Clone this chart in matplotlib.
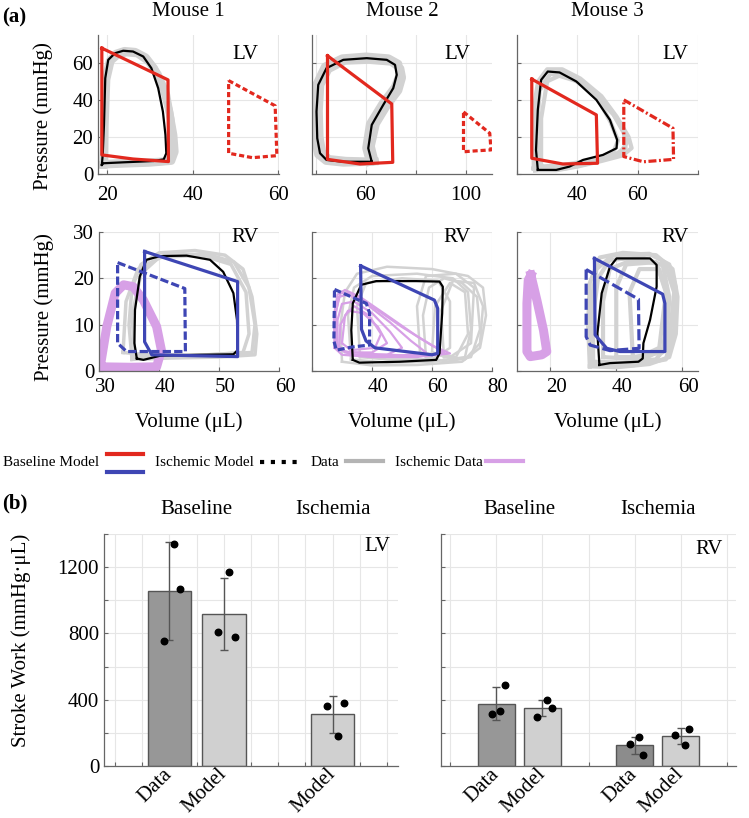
import numpy as np
import matplotlib.pyplot as plt
import matplotlib.transforms as mtransforms
from matplotlib.lines import Line2D

plt.rcParams['font.family'] = ['Liberation Serif', 'DejaVu Serif']

W, H = 749, 818

# ---------------- PV loops (volume uL, pressure mmHg) ----------------
# mouse 1 LV
m1_lv_model = [(18.7, 67.9), (34.2, 50.8), (34.3, 6.7), (26.0, 8.1), (18.7, 10.3)]
m1_lv_isch = [(48.4, 50.4), (59.3, 36.8), (59.7, 9.9), (54.0, 8.8), (48.4, 11.2)]
m1_lv_data = [(18.7, 4.9), (18.9, 10.3), (19.2, 26.5), (19.5, 51.7), (20.2, 61.6), (21.8, 65.2),
              (23.7, 66.5), (26.0, 66.1), (28.4, 63.4), (30.3, 57.1), (31.9, 46.3), (33.0, 33.7),
              (33.6, 21.1), (33.8, 11.2), (33.2, 7.9), (30.8, 7.0), (23.7, 6.3), (19.1, 5.8)]
m1_lv_gray = [
    [(19.0, 5.0), (19.2, 25), (19.6, 52), (20.5, 61), (22.0, 65), (24.0, 66.5), (26.5, 66),
     (29.0, 63), (31.0, 57), (33.0, 47), (34.5, 34), (35.5, 21), (35.8, 12), (35.0, 7),
     (30.0, 6.0), (24.0, 5.5)],
    [(19.3, 5.5), (19.4, 26), (19.8, 51), (20.8, 61), (22.5, 64.5), (24.5, 65.5), (27.0, 65),
     (29.5, 61), (31.8, 54), (33.8, 43), (34.8, 30), (35.3, 18), (35.2, 10), (34.0, 7),
     (29.0, 6.3), (23.0, 6.0)]]

# mouse 2 LV
m2_lv_model = [(44.6, 63.8), (70.3, 37.8), (70.7, 6.3), (57.6, 5.4), (44.6, 7.9)]
m2_lv_isch = [(99.0, 33.5), (109.5, 22.0), (110.0, 13.0), (104.0, 12.5), (99.0, 12.0)]
m2_lv_data = [(62.3, 6.6), (60.9, 13.9), (62.3, 26.5), (66.9, 37.3), (70.9, 46.3), (72.3, 53.5),
              (71.6, 58.9), (68.3, 61.6), (60.3, 62.5), (50.9, 61.6), (44.2, 57.1), (40.9, 48.1),
              (40.2, 33.7), (40.5, 19.3), (41.6, 11.2), (44.2, 7.6), (50.9, 6.6)]
m2_lv_gray = [
    [(61.5, 6.5), (60.0, 14), (61.5, 27), (66.5, 38), (71.5, 47), (73.5, 54), (73.0, 59.5),
     (69.0, 62.5), (60.0, 63.5), (50.5, 62.5), (43.5, 58), (40.0, 48), (39.3, 33), (39.6, 19),
     (40.8, 10.5), (44.0, 7.0), (51.0, 6.0)],
    [(63.5, 6.8), (62.0, 15), (64.0, 27), (68.5, 37), (73.0, 45), (74.5, 52), (73.8, 57),
     (70.0, 60.5), (61.0, 61.5), (51.5, 61), (45.0, 56.5), (41.8, 48), (41.2, 34), (41.5, 20),
     (42.5, 12), (45.0, 8.2), (52.0, 7.2)]]

# mouse 3 LV
m3_lv_model = [(24.9, 51.2), (46.3, 31.9), (46.7, 5.8), (35.2, 5.4), (24.9, 8.5)]
m3_lv_isch = [(55.4, 40.0), (71.7, 24.7), (71.9, 7.9), (61.9, 6.6), (55.4, 9.4)]
m3_lv_data = [(26.9, 2.2), (26.3, 13.0), (26.9, 34.6), (28.0, 50.8), (30.2, 55.3), (34.1, 54.8),
              (39.7, 49.9), (46.3, 40.0), (50.8, 29.2), (53.2, 18.4), (53.0, 13.9), (48.5, 10.3),
              (41.9, 7.6), (37.4, 4.0), (33.0, 2.2)]
m3_lv_gray = [
    [(26.0, 2.0), (25.0, 15), (25.5, 35), (27.0, 50), (30.0, 56.5), (35.0, 56.5), (41.0, 51.5),
     (48.0, 42), (53.0, 31), (57.0, 20), (58.0, 14), (55.0, 10), (48.0, 7), (40.0, 4), (33.0, 2)],
    [(27.0, 3.0), (26.5, 20), (27.5, 45), (31.0, 54), (37.0, 53), (45.0, 44), (52.0, 32),
     (55.5, 22), (56.0, 14), (51.0, 9), (42.0, 5), (33.0, 3)],
    [(28.0, 4.0), (28.0, 30), (30.0, 50), (34.0, 53), (40.0, 50), (47.0, 40), (51.0, 28),
     (53.5, 18), (52.0, 12), (46.0, 8), (36.0, 5)],
    [(25.5, 3.0), (25.8, 25), (27.0, 47), (29.5, 55), (33.5, 55.5), (39.0, 52), (45.5, 44.5),
     (50.5, 36), (54.5, 26), (56.5, 17), (54.0, 11), (46.0, 6.5), (36.0, 3)]]

# mouse 1 RV
m1_rv_model = [(37.6, 25.8), (53.1, 19.3), (53.1, 3.1), (38.8, 3.5), (37.6, 6.3)]
m1_rv_isch = [(33.1, 23.4), (44.3, 17.8), (44.4, 4.2), (34.6, 4.2), (33.1, 6.0)]
m1_rv_data = [(36.3, 2.7), (35.9, 6.0), (36.0, 13.2), (36.8, 20.4), (37.9, 24.0), (40.2, 24.8),
              (44.6, 24.9), (48.5, 24.0), (50.7, 21.4), (52.4, 16.8), (53.0, 11.0), (53.1, 4.5),
              (52.4, 3.6), (46.8, 3.5), (40.2, 3.3), (37.4, 2.4)]
m1_rv_isch_data = [[(30.2, 0.9), (31.3, 9.6), (32.7, 16.8), (34.1, 18.6), (35.7, 18.2),
                    (37.4, 15.3), (39.6, 9.6), (40.4, 4.5), (39.6, 0.9), (35.3, 0.8)]]
m1_rv_gray = [
    [(35.5, 2.5), (35.0, 10), (35.5, 18), (37.0, 23), (40.0, 25.5), (46.0, 26), (51.0, 25),
     (54.0, 22), (55.5, 16), (56.3, 8), (56.0, 3.5), (50.0, 3), (42.0, 2.8)],
    [(36.0, 3.0), (35.5, 12), (37.0, 21), (40.0, 24.5), (47.0, 25), (52.0, 23), (54.5, 17),
     (55.0, 8), (54.0, 4), (45.0, 3.2)],
    [(34.0, 4.0), (34.5, 15), (36.5, 22), (41.0, 25), (48.0, 25.2), (52.5, 23.5), (55.0, 18),
     (56.0, 10), (55.5, 4), (48.0, 3.5), (38.0, 3.5)]]

# mouse 2 RV
m2_rv_model = [(36.2, 22.7), (60.8, 15.3), (61.9, 13.5), (61.9, 3.8), (60.0, 3.5), (41.0, 5.0),
               (38.0, 6.5), (36.5, 9.0)]
m2_rv_isch = [(27.5, 17.6), (38.1, 14.6), (39.2, 12.5), (39.2, 5.6), (33.6, 5.2), (28.1, 4.5),
              (27.3, 6.5)]
m2_rv_data = [(33.6, 2.4), (33.1, 8.8), (33.6, 14.6), (36.4, 18.6), (41.4, 19.4), (54.7, 19.4),
              (62.5, 19.3), (63.6, 18.2), (63.4, 12.5), (62.5, 3.8), (61.4, 2.4), (49.2, 2.0),
              (35.8, 1.8)]
m2_rv_isch_data = [
    [(27.5, 5.0), (27.3, 12), (28.5, 16.5), (31.0, 17.5), (36.0, 16), (45.0, 12), (55.0, 7.5),
     (64.0, 4.0), (55.0, 3.0), (40.0, 3.0), (30.0, 3.5)],
    [(28.0, 5.0), (27.8, 12), (29.0, 16), (32.0, 16.5), (38.0, 14.5), (46.0, 10.5), (53.0, 6.5),
     (58.0, 4.0), (48.0, 3.2), (35.0, 3.3)],
    [(28.5, 5.0), (28.5, 11), (30.0, 14.5), (34.0, 15), (40.0, 12.5), (46.0, 8.5), (50.0, 5),
     (45.0, 3.5), (33.0, 3.5)],
    [(29.0, 5.0), (29.5, 10), (32.0, 13), (37.0, 12.5), (42.0, 9.5), (45.0, 6), (40.0, 4),
     (31.0, 4.0)],
    [(30.0, 6.0), (31.0, 12), (34.0, 14), (39.0, 12), (43.0, 8), (41.0, 5), (33.0, 4.5)],
    [(27.8, 6.0), (28.0, 13), (29.5, 16.8), (33.0, 16.8), (41.0, 13.5), (50.0, 9.5), (60.0, 5.5),
     (66.0, 3.8), (58.0, 3.2), (42.0, 3.6), (31.0, 4.2)]]
m2_rv_gray = [
    [(30.0, 2.0), (29.5, 10), (31.0, 17), (35.0, 21), (45.0, 22.5), (60.0, 22), (72.0, 20.5),
     (77.0, 18), (78.0, 12), (76.0, 5), (70.0, 2), (55.0, 1.3), (40.0, 1.2)],
    [(33.0, 2.5), (32.0, 12), (34.0, 18), (40.0, 20.5), (55.0, 21), (67.0, 20), (72.0, 17),
     (73.0, 9), (71.0, 3), (60.0, 2), (45.0, 1.8)],
    [(58.0, 3.0), (57.0, 12), (59.0, 18), (64.0, 20), (70.0, 19), (75.0, 16), (76.0, 9),
     (73.0, 3), (65.0, 2)],
    [(60.0, 4.0), (61.0, 14), (66.0, 19), (71.0, 17), (72.0, 8), (68.0, 3)],
    [(36.0, 3.0), (35.0, 14), (38.0, 19), (50.0, 20), (62.0, 19.5), (66.0, 15), (66.0, 5),
     (60.0, 2.5), (45.0, 2.5)],
    [(64.0, 3.0), (63.0, 13), (67.0, 19.5), (74.0, 19), (77.0, 14), (76.0, 6), (71.0, 2.5)],
    [(56.0, 4.0), (55.0, 14), (58.0, 20.5), (68.0, 21), (74.0, 18), (73.0, 6), (66.0, 3)]]

# mouse 3 RV
m3_rv_model = [(33.4, 24.3), (54.0, 16.6), (54.7, 14.6), (54.7, 4.2), (41.1, 4.2), (37.1, 4.9),
               (33.6, 7.8)]
m3_rv_isch = [(30.9, 21.9), (46.7, 15.5), (46.9, 4.9), (38.1, 4.4), (32.1, 5.6), (30.9, 7.4)]
m3_rv_data = [(34.9, 1.3), (34.3, 8.1), (35.6, 16.8), (38.1, 22.5), (40.1, 24.3), (50.2, 24.3),
              (52.2, 22.9), (52.2, 18.2), (50.2, 11.0), (48.2, 6.0), (48.0, 2.7), (46.7, 2.0),
              (38.1, 1.7)]
m3_rv_isch_data = [[(14.2, 20.7), (16.0, 15.3), (18.0, 8.8), (19.0, 4.2), (17.5, 3.5), (14.0, 3.1),
                    (13.0, 4.2), (13.0, 14.6), (13.4, 19.6)]]
m3_rv_gray = [
    [(32.0, 1.0), (31.5, 10), (32.0, 19), (35.0, 24.5), (42.0, 25.5), (52.0, 25), (57.0, 22),
     (58.5, 16), (58.0, 8), (56.0, 3), (50.0, 1.5), (40.0, 0.8)],
    [(33.0, 2.0), (33.0, 12), (34.5, 20), (38.0, 24), (48.0, 24.5), (55.0, 22.5), (57.5, 17),
     (56.0, 6), (52.0, 2.5), (42.0, 1.8)],
    [(36.0, 3.0), (36.0, 15), (38.0, 22), (45.0, 24), (54.0, 23), (56.0, 16), (55.0, 5),
     (48.0, 2.5)],
    [(40.0, 3.0), (40.0, 18), (43.0, 23), (52.0, 23.5), (55.0, 17), (53.0, 5), (47.0, 3)],
    [(45.0, 3.0), (44.0, 17), (47.0, 22), (53.0, 22), (56.0, 15), (54.0, 4)],
    [(32.5, 1.5), (32.3, 14), (34.0, 22), (39.0, 25), (50.0, 25.3), (56.0, 23), (58.0, 18),
     (57.5, 9), (55.0, 2.5), (45.0, 1.2)]]

# ---------------- stroke work bars ----------------
lv_pos = [1, 2, 4]
lv_labels = ['Data', 'Model', 'Model']
lv_mean = [1054, 918, 311]
lv_sd = [296, 218, 109]
lv_points = [[1339, 1069, 752], [1173, 808, 778], [363, 383, 184]]

rv_pos = [1, 2, 4, 5]
rv_labels = ['Data', 'Model', 'Data', 'Model']
rv_mean = [377, 349, 124, 180]
rv_sd = [98, 50, 51, 48]
rv_points = [[491, 313, 333], [401, 349, 297], [172, 130, 68], [225, 188, 126]]

# horizontal jitter of the dots (layout only)
lv_jit = [[0.08, 0.19, -0.10], [0.09, -0.11, 0.20], [-0.10, 0.20, 0.09]]
rv_jit = [[0.19, -0.10, 0.09], [0.09, 0.20, -0.11], [0.09, -0.11, 0.19], [0.19, -0.12, 0.09]]

RED = '#e2281e'
BLUE = '#3e46b4'
GRAY = '#d2d2d2'
PURPLE = '#d7a0e6'

fig = plt.figure(figsize=(W / 100, H / 100), dpi=100)


def px_axes(x0, y0, x1, y1):
    return fig.add_axes([x0 / W, 1 - y1 / H, (x1 - x0) / W, (y1 - y0) / H])


def style(ax, fs=15):
    for s in ['top', 'right']:
        ax.spines[s].set_visible(False)
    for s in ['left', 'bottom']:
        ax.spines[s].set_color('#666666')
        ax.spines[s].set_linewidth(0.9)
    ax.tick_params(which='both', direction='in', length=3, width=0.8, color='#666666',
                   labelsize=fs)
    ax.grid(True, which='both', color='#e6e6e6', lw=0.8)
    ax.set_axisbelow(True)


def loop(ax, pts, **kw):
    a = np.array(list(pts) + [pts[0]])
    ax.plot(a[:, 0], a[:, 1], solid_joinstyle='round', dash_joinstyle='round', **kw)


# gray line width per panel (band look of the recorded loops)
gray_lw = [5.5, 5.5, 3.0, 2.5, 1.8, 3.0]

panels = [
    (98, 279, 35, 174, (17.8, 60.2), [20, 40, 60], ['20', '40', '60'], m1_lv_gray, None,
     m1_lv_data, m1_lv_model, m1_lv_isch, RED, (0, (1.6, 0.9)), 'LV', (0.885, 0.93), 'Mouse 1'),
    (312, 492, 35, 174, (38.4, 110.4), [40, 60, 80, 100], ['', '60', '', '100'], m2_lv_gray, None,
     m2_lv_data, m2_lv_model, m2_lv_isch, RED, (0, (1.6, 0.9)), 'LV', (0.88, 0.93), 'Mouse 2'),
    (517, 698, 35, 174, (20, 80), [20, 40, 60, 80], ['', '40', '60', ''], m3_lv_gray, None,
     m3_lv_data, m3_lv_model, m3_lv_isch, RED, (0, (2.5, 0.8, 0.6, 0.8)), 'LV', (0.945, 0.93), 'Mouse 3'),
    (99, 279, 232, 371, (30, 60), [30, 40, 50, 60], ['30', '40', '50', '60'], m1_rv_gray,
     m1_rv_isch_data, m1_rv_data, m1_rv_model, m1_rv_isch, BLUE, (0, (2.6, 1.0)), 'RV', (0.885, 1.03), None),
    (312, 492, 232, 371, (20, 80), [20, 40, 60, 80], ['', '40', '60', '80'], m2_rv_gray,
     m2_rv_isch_data, m2_rv_data, m2_rv_model, m2_rv_isch, BLUE, (0, (2.2, 1.0)), 'RV', (0.88, 1.03), None),
    (517, 698, 232, 371, (10, 64.7), [20, 40, 60], ['20', '40', '60'], m3_rv_gray,
     m3_rv_isch_data, m3_rv_data, m3_rv_model, m3_rv_isch, BLUE, (0, (3.5, 1.2)), 'RV', (0.95, 1.03), None),
]

shift_right = mtransforms.ScaledTranslation(6 / 100, 0, fig.dpi_scale_trans)

for i, (x0, x1, y0, y1, xlim, xt, xtl, gray, isch_data, data, model, isch, col, ls, lab, lpos,
        title) in enumerate(panels):
    ax = px_axes(x0, y0, x1, y1)
    style(ax)
    top = i < 3
    for g in gray:
        loop(ax, g, color=GRAY, lw=gray_lw[i])
    if isch_data is not None:
        for k, p in enumerate(isch_data):
            thick = i != 4
            loop(ax, p, color=PURPLE, lw=6.5 if thick else 1.6)
    loop(ax, data, color='black', lw=1.6)
    loop(ax, model, color=col, lw=2.3)
    loop(ax, isch, color=col, lw=2.3, ls=ls)
    ax.set_xlim(*xlim)
    ax.set_xticks(xt)
    ax.set_xticklabels(xtl)
    if top:
        ax.set_ylim(0, 75)
        ax.set_yticks([0, 20, 40, 60])
        ax.tick_params(axis='x', pad=9)
        ax.set_title(title, fontsize=15, pad=14)
    else:
        ax.set_ylim(0, 30)
        ax.set_yticks([0, 10, 20, 30])
        ax.tick_params(axis='x', pad=5)
        ax.set_xlabel('Volume (\u03bcL)', fontsize=15, labelpad=11)
        for t in ax.get_xticklabels():
            t.set_transform(t.get_transform() + shift_right)
    if i % 3 == 0:
        ax.set_ylabel('Pressure (mmHg)', fontsize=15)
        ax.yaxis.set_label_coords(-0.25, 0.42 if top else 0.46)
    else:
        ax.set_yticklabels([])
    ax.text(lpos[0], lpos[1], lab, transform=ax.transAxes, ha='right', va='top', fontsize=15)

fig.text(2 / W, 1 - 17 / H, '(a)', fontsize=15, weight='bold', va='center')
fig.text(2 / W, 1 - 503 / H, '(b)', fontsize=15, weight='bold', va='center')

# ---------------- legend row ----------------
leg_y = 462
leg_fs = 11
fig.text(3 / W, 1 - leg_y / H, 'Baseline Model', fontsize=leg_fs, va='center')
fig.add_artist(Line2D([107 / W, 143 / W], [1 - 454 / H] * 2, color=RED, lw=3))
fig.add_artist(Line2D([107 / W, 143 / W], [1 - 472 / H] * 2, color=BLUE, lw=3))
fig.text(155 / W, 1 - leg_y / H, 'Ischemic Model', fontsize=leg_fs, va='center')
fig.add_artist(Line2D([260 / W, 298 / W], [1 - 462 / H] * 2, color='black', lw=3,
                      ls=(0, (1.0, 1.6))))
fig.text(311 / W, 1 - leg_y / H, 'Data', fontsize=leg_fs, va='center')
fig.add_artist(Line2D([346 / W, 383 / W], [1 - 461 / H] * 2, color='#b4b4b4', lw=3))
fig.text(395 / W, 1 - leg_y / H, 'Ischemic Data', fontsize=leg_fs, va='center')
fig.add_artist(Line2D([486 / W, 523 / W], [1 - 461 / H] * 2, color=PURPLE, lw=3))

# ---------------- bar panels ----------------
bars = [
    (104, 398, (-0.2, 5.2), 0.5, lv_pos, lv_labels, lv_mean, lv_sd, lv_points, lv_jit,
     ['#979797', '#d0d0d0', '#d0d0d0'], 'LV', (0.975, 0.985), [(1.5, 'Baseline'), (4, 'Ischemia')]),
    (441, 736, (-0.2, 6.2), 1.0, rv_pos, rv_labels, rv_mean, rv_sd, rv_points, rv_jit,
     ['#979797', '#d0d0d0', '#8c8c8c', '#d0d0d0'], 'RV', (0.955, 0.975),
     [(1.5, 'Baseline'), (4.5, 'Ischemia')]),
]

for j, (x0, x1, xlim, gstep, pos, labels, mean, sd, pts, jit, cols, lab, lpos, groups) in enumerate(bars):
    ax = px_axes(x0, 534, x1, 766)
    style(ax)
    ax.bar(pos, mean, width=0.8, color=cols, edgecolor='#555555', lw=1.0, zorder=2)
    ax.errorbar(pos, mean, yerr=sd, fmt='none', ecolor='#555555', elinewidth=1.0, capsize=3,
                capthick=1.0, zorder=3)
    for p, vals, jj in zip(pos, pts, jit):
        ax.scatter([p + d for d in jj], vals, s=22, color='black', zorder=4)
    ax.set_xlim(*xlim)
    ax.set_ylim(0, 1400)
    ax.set_xticks(pos)
    ax.set_xticks(np.arange(0, xlim[1], gstep), minor=True)
    ax.set_xticklabels(labels, rotation=45, ha='right', va='center', rotation_mode='anchor',
                       fontsize=15)
    ax.tick_params(axis='x', which='major', length=0, pad=4)
    ax.set_yticks([0, 400, 800, 1200])
    ax.set_yticks(np.arange(0, 1401, 200), minor=True)
    if j == 0:
        ax.set_ylabel('Stroke Work (mmHg\u00b7\u03bcL)', fontsize=15)
        ax.yaxis.set_label_coords(-0.248, 0.54)
    else:
        ax.set_yticklabels([])
    ax.text(lpos[0], lpos[1], lab, transform=ax.transAxes, ha='right', va='top', fontsize=15)
    for gx, gname in groups:
        ax.text(gx, 1545, gname, ha='center', va='center', fontsize=15, clip_on=False)

fig.savefig('out.png', dpi=100)
